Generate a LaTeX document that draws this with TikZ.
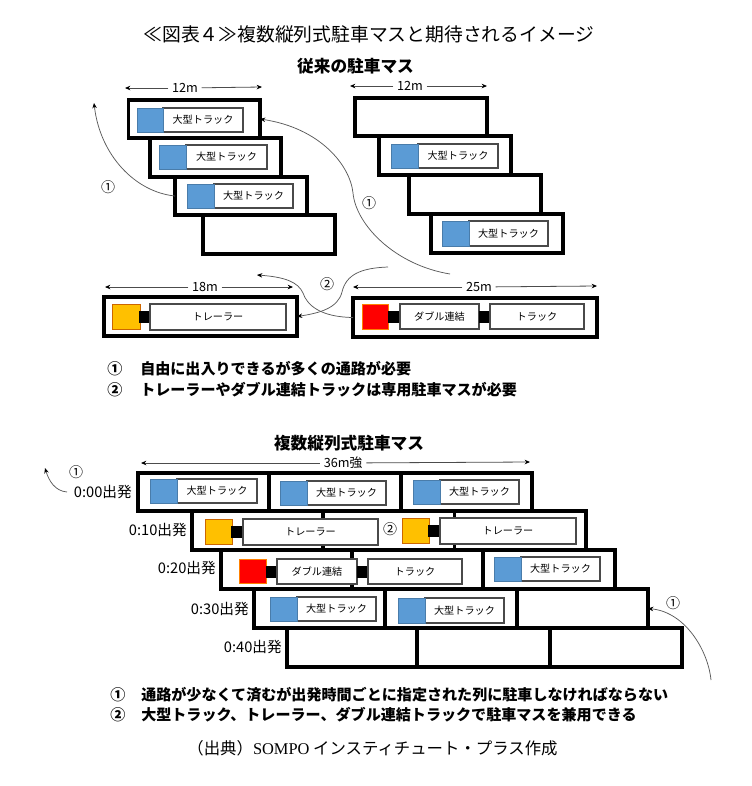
\documentclass[tikz,border=0pt]{standalone}
\usepackage{fontspec}
\setmainfont{Noto Sans CJK JP}
\newfontfamily\srcfont{Liberation Serif}
\usetikzlibrary{arrows.meta}
\definecolor{cabblue}{HTML}{5B9BD5}
\definecolor{cabgold}{HTML}{FFC000}
\definecolor{cabred}{HTML}{FF0000}
\definecolor{boxedge}{HTML}{4A4A4A}
\tikzset{
  x=0.75pt,y=-0.75pt,
  bay/.style={draw=black,line width=2.4pt,fill=white},
  tbox/.style={draw=boxedge,line width=0.85pt,fill=white,font=\fontsize{7.6pt}{9pt}\selectfont},
  cabb/.style={draw=cabblue!80!black,line width=0.6pt,fill=cabblue},
  cabg/.style={draw=orange!80!black,line width=0.6pt,fill=cabgold},
  cabr/.style={draw=orange,line width=0.6pt,fill=cabred},
  coupler/.style={fill=black},
  curve/.style={draw=black!65,line width=0.55pt,-{Stealth[black,length=4pt,width=3.4pt]}},
  dim/.style={draw=black!70,line width=0.6pt,-{Stealth[black,length=4pt,width=3.4pt]}},
  dimlab/.style={font=\fontsize{9.5pt}{11pt}\selectfont,inner sep=0pt,outer sep=0pt},
  circ/.style={font=\fontsize{10.5pt}{12pt}\selectfont,inner sep=0pt},
  dep/.style={font=\fontsize{11pt}{13pt}\selectfont,anchor=east,inner sep=0pt},
  titlet/.style={font=\fontsize{14.1pt}{16pt}\selectfont,inner sep=0pt},
  head/.style={font=\fontsize{12.5pt}{15pt}\selectfont\bfseries,inner sep=0pt},
  note/.style={font=\fontsize{11.3pt}{14pt}\selectfont\bfseries,anchor=west,inner sep=0pt},
}
\newcommand{\rbox}[7][]{% style,name,x1,y1,x2,y2,text
  \pgfmathsetmacro\rw{(#5-#3)*0.75}\pgfmathsetmacro\rh{(#6-#4)*0.75}
  \pgfmathsetmacro\rx{(#3+#5)/2}\pgfmathsetmacro\ry{(#4+#6)/2}
  \node[#1,minimum width=\rw pt,minimum height=\rh pt,inner sep=0pt,outer sep=0pt] (#2) at (\rx,\ry) {#7};}
\newcommand{\bigtruck}[6]{% name,x1,y1,xm,x2,y2
  \rbox[tbox]{#1b}{#4}{#3}{#5}{#6}{大型トラック}
  \rbox[cabb]{#1c}{#2}{#3}{#4}{#6}{}}
\begin{document}
\begin{tikzpicture}
\useasboundingbox (0,0) rectangle (751,786);
\fill[white] (0,0) rectangle (751,786);
\node[titlet] (title) at (369,34) {≪図表４≫複数縦列式駐車マスと期待されるイメージ};
\node[head] (headA) at (355.5,66) {従来の駐車マス};
% left stack
\rbox[bay]{a1}{128.5}{100}{260}{138}{}
\rbox[bay]{a2}{150}{138}{281}{177}{}
\rbox[bay]{a3}{175}{177}{307}{215}{}
\rbox[bay]{a4}{203}{215}{335}{254}{}
\bigtruck{ta1}{137}{108}{163}{243}{132}
\bigtruck{ta2}{159}{145}{186}{267}{169}
\bigtruck{ta3}{187}{184}{214}{293}{208}
% right stack
\rbox[bay]{b1}{355}{98}{487}{136}{}
\rbox[bay]{b2}{379}{136}{511}{175}{}
\rbox[bay]{b3}{409}{175}{541}{214}{}
\rbox[bay]{b4}{431}{214}{563}{253}{}
\bigtruck{tb2}{391}{144}{418}{498}{168}
\bigtruck{tb4}{442}{221}{469}{548}{246}
% trailer bay
\rbox[bay]{trbay}{104}{297}{297}{336}{}
\rbox[cabg]{trc}{112}{304}{140}{329}{}
\rbox[coupler]{trk}{139}{311}{151}{323}{}
\rbox[tbox]{trb}{150}{304}{286}{330}{トレーラー}
% double bay
\rbox[bay]{dbbay}{353}{298}{597}{337}{}
\rbox[cabr]{dbc}{362}{304}{388}{329}{}
\rbox[coupler]{dbk1}{388}{310.5}{400}{322.5}{}
\rbox[tbox]{dbb1}{400}{304}{479}{329}{ダブル連結}
\rbox[coupler]{dbk2}{479}{310.5}{491}{322.5}{}
\rbox[tbox]{dbb2}{490}{304}{584}{329}{トラック}
% dimension labels
\coordinate (d1l) at (125,88); \coordinate (d1r) at (262,87);
\node[dimlab,minimum width=25pt] (d1) at (185,88) {12m};
\draw[dim] (d1) -- (d1l); \draw[dim] (d1) -- (d1r);
\coordinate (d2l) at (350,86); \coordinate (d2r) at (487,86);
\node[dimlab,minimum width=25pt] (d2) at (410,86) {12m};
\draw[dim] (d2) -- (d2l); \draw[dim] (d2) -- (d2r);
\coordinate (d3l) at (105,287); \coordinate (d3r) at (293,287);
\node[dimlab,minimum width=25pt] (d3) at (205,287) {18m};
\draw[dim] (d3) -- (d3l); \draw[dim] (d3) -- (d3r);
\coordinate (d4l) at (353,287); \coordinate (d4r) at (597,286);
\node[dimlab,minimum width=25pt] (d4) at (479,287) {25m};
\draw[dim] (d4) -- (d4l); \draw[dim] (d4) -- (d4r);
% flow arrows
\coordinate (ar1) at (94,103);
\draw[curve] (a3.west) .. controls (135,192) and (100,155) .. (ar1);
\coordinate (st2) at (450,274);
\draw[curve] (st2) .. controls (395,265) and (356,225) .. (353,193)
   .. controls (350,165) and (320,128) .. (a1.east);
\coordinate (ar3) at (257,275);
\draw[curve] (dbbay.west) .. controls (320,317) and (307,305) .. (303,293)
   .. controls (298,282) and (285,277) .. (ar3);
\coordinate (st4) at (388,267);
\draw[curve] (st4) .. controls (360,268) and (346,275) .. (342,292)
   .. controls (338,308) and (320,313) .. (trbay.east);
\node[circ] (c1) at (108,187) {①};
\node[circ] (c2) at (369,203) {①};
\node[circ] (c3) at (327,284) {②};
% notes
\node[note] (n1a) at (107,369) {①};
\node[note] (n1b) at (140,369) {自由に出入りできるが多くの通路が必要};
\node[note] (n2a) at (107,390) {②};
\node[note] (n2b) at (140,390) {トレーラーやダブル連結トラックは専用駐車マスが必要};
% lower part
\node[head] (headB) at (349,443) {複数縦列式駐車マス};
\coordinate (d5l) at (141,463); \coordinate (d5r) at (530,462);
\node[dimlab,minimum width=35pt] (d5) at (343,463) {36m強};
\draw[dim] (d5) -- (d5l); \draw[dim] (d5) -- (d5r);
% rows
\rbox[bay]{r01}{138}{473}{269}{511}{}\rbox[bay]{r02}{269}{473}{401}{511}{}\rbox[bay]{r03}{401}{473}{532}{511}{}
\rbox[bay]{r11}{192}{511}{323}{550}{}\rbox[bay]{r12}{323}{511}{454.5}{550}{}\rbox[bay]{r13}{454.5}{511}{586}{550}{}
\rbox[bay]{r21}{221}{550}{352}{589}{}\rbox[bay]{r22}{352}{550}{483}{589}{}\rbox[bay]{r23}{483}{550}{615}{589}{}
\rbox[bay]{r31}{254}{589}{385}{628}{}\rbox[bay]{r32}{385}{589}{517}{628}{}\rbox[bay]{r33}{517}{589}{648}{628}{}
\rbox[bay]{r41}{287}{628}{417}{667}{}\rbox[bay]{r42}{417}{628}{550}{667}{}\rbox[bay]{r43}{550}{628}{682}{667}{}
\bigtruck{t01}{150}{479}{177}{257}{503}
\bigtruck{t02}{280}{481}{307}{386}{505}
\bigtruck{t03}{413}{480}{440}{519}{504}
\rbox[cabg]{t11c}{205}{519}{232}{544}{}
\rbox[coupler]{t11k}{231}{526}{244}{538}{}
\rbox[tbox]{t11b}{243}{519}{378}{545}{トレーラー}
\rbox[cabg]{t12c}{402}{518}{429}{543}{}
\rbox[coupler]{t12k}{428}{525}{441}{537}{}
\rbox[tbox]{t12b}{440}{518}{576}{544}{トレーラー}
\rbox[cabr]{t21c}{239}{559}{266}{583}{}
\rbox[coupler]{t21k}{266}{565.5}{278}{577.5}{}
\rbox[tbox]{t21b}{277}{559}{357}{584}{ダブル連結}
\rbox[coupler]{t21j}{357}{565.5}{369}{577.5}{}
\rbox[tbox]{t21d}{368}{559}{462}{584}{トラック}
\bigtruck{t23}{494}{557}{521}{600}{581}
\bigtruck{t31}{270}{597}{297}{376}{621}
\bigtruck{t32}{398}{598}{425}{504}{623}
% departure labels
\node[dep] (l0) at (132,492) {0:00出発};
\node[dep] (l1) at (187,530) {0:10出発};
\node[dep] (l2) at (216,568) {0:20出発};
\node[dep] (l3) at (249,609) {0:30出発};
\node[dep] (l4) at (282,647) {0:40出発};
\coordinate (s6) at (67,492); \coordinate (e6) at (45,468);
\draw[curve] (s6) .. controls (55,491) and (49,481) .. (e6);
\coordinate (s7) at (711,680);
\draw[curve] (s7) .. controls (708,650) and (685,612) .. (r33.east);
\node[circ] (c4) at (76,472) {①};
\node[circ] (c5) at (390,529) {②};
\node[circ] (c6) at (673,603) {①};
\node[note] (n3a) at (110,695) {①};
\node[note] (n3b) at (141,695) {通路が少なくて済むが出発時間ごとに指定された列に駐車しなければならない};
\node[note] (n4a) at (110,715) {②};
\node[note] (n4b) at (141,715) {大型トラック、トレーラー、ダブル連結トラックで駐車マスを兼用できる};
\node[font=\fontsize{12.3pt}{14pt}\selectfont,inner sep=0pt] (src) at (372.5,748) {（出典）{\srcfont SOMPO} インスティチュート・プラス作成};
\end{tikzpicture}
\end{document}
